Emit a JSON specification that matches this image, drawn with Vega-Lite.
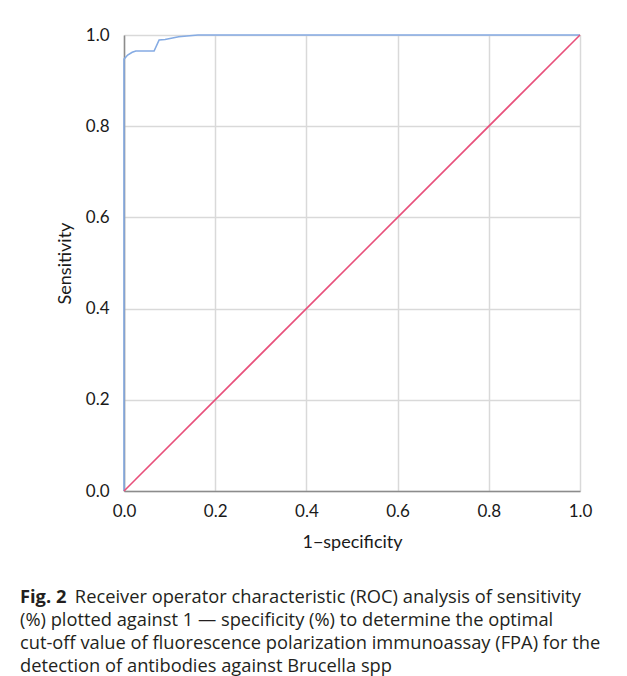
{
  "$schema": "https://vega.github.io/schema/vega-lite/v6.json",
  "width": 456,
  "height": 456,
  "autosize": {"type": "none"},
  "padding": {"left": 124, "top": 35, "right": 47, "bottom": 185},
  "background": "white",
  "config": {
    "view": {"stroke": null},
    "font": "Lato",
    "axis": {"labelFont": "Lato", "titleFont": "Lato", "labelColor": "#1a1a1a", "titleColor": "#1a1a1a", "titleFontWeight": "normal"}
  },
  "title": {
    "text": "Fig. 2",
    "subtitle": [
      "\u200b\u2003\u2003\u2003Receiver operator characteristic (ROC) analysis of sensitivity",
      "(%) plotted against 1 \u2014 specificity (%) to determine the optimal",
      "cut-off value of fluorescence polarization immunoassay (FPA) for the",
      "detection of antibodies against Brucella spp"
    ],
    "orient": "bottom",
    "anchor": "start",
    "frame": "group",
    "dx": -104,
    "offset": 38,
    "font": "Open Sans",
    "fontSize": 18.3,
    "fontWeight": "bold",
    "color": "#231f20",
    "subtitleFont": "Open Sans",
    "subtitleFontSize": 18.3,
    "subtitleColor": "#231f20",
    "subtitleLineHeight": 23,
    "subtitlePadding": -18
  },
  "data": {
    "values": [
      {"series": "roc", "i": 0, "fpr": 0.0, "tpr": 0.0},
      {"series": "roc", "i": 1, "fpr": 0.0, "tpr": 0.947},
      {"series": "roc", "i": 2, "fpr": 0.008, "tpr": 0.956},
      {"series": "roc", "i": 3, "fpr": 0.018, "tpr": 0.962},
      {"series": "roc", "i": 4, "fpr": 0.026, "tpr": 0.965},
      {"series": "roc", "i": 5, "fpr": 0.066, "tpr": 0.965},
      {"series": "roc", "i": 6, "fpr": 0.077, "tpr": 0.989},
      {"series": "roc", "i": 7, "fpr": 0.09, "tpr": 0.99},
      {"series": "roc", "i": 8, "fpr": 0.12, "tpr": 0.996},
      {"series": "roc", "i": 9, "fpr": 0.162, "tpr": 1.0},
      {"series": "roc", "i": 10, "fpr": 1.0, "tpr": 1.0},
      {"series": "ref", "i": 0, "fpr": 0.0, "tpr": 0.0},
      {"series": "ref", "i": 1, "fpr": 1.0, "tpr": 1.0}
    ]
  },
  "mark": {"type": "line", "strokeWidth": 1.6, "clip": false},
  "encoding": {
    "x": {
      "field": "fpr", "type": "quantitative",
      "scale": {"domain": [0, 1], "nice": false},
      "axis": {
        "title": "1\u2212specificity", "values": [0, 0.2, 0.4, 0.6, 0.8, 1.0], "format": ".1f",
        "grid": true, "gridColor": "#d9d9d9", "gridWidth": 1.5,
        "domainColor": "#8c8c8c", "domainWidth": 1.5, "ticks": false, "labelFlush": false,
        "labelFontSize": 17, "labelPadding": 12, "titleFontSize": 18, "titlePadding": 14
      }
    },
    "y": {
      "field": "tpr", "type": "quantitative",
      "scale": {"domain": [0, 1], "nice": false},
      "axis": {
        "title": "Sensitivity", "values": [0, 0.2, 0.4, 0.6, 0.8, 1.0], "format": ".1f",
        "grid": true, "gridColor": "#d9d9d9", "gridWidth": 1.5,
        "domainColor": "#8c8c8c", "domainWidth": 1.5, "ticks": false, "labelFlush": false,
        "labelFontSize": 17, "labelPadding": 15, "titleFontSize": 18, "titlePadding": 11
      }
    },
    "color": {
      "field": "series", "type": "nominal",
      "scale": {"domain": ["roc", "ref"], "range": ["#85abe3", "#e8507b"]},
      "legend": null
    },
    "order": {"field": "i", "type": "quantitative"}
  }
}
